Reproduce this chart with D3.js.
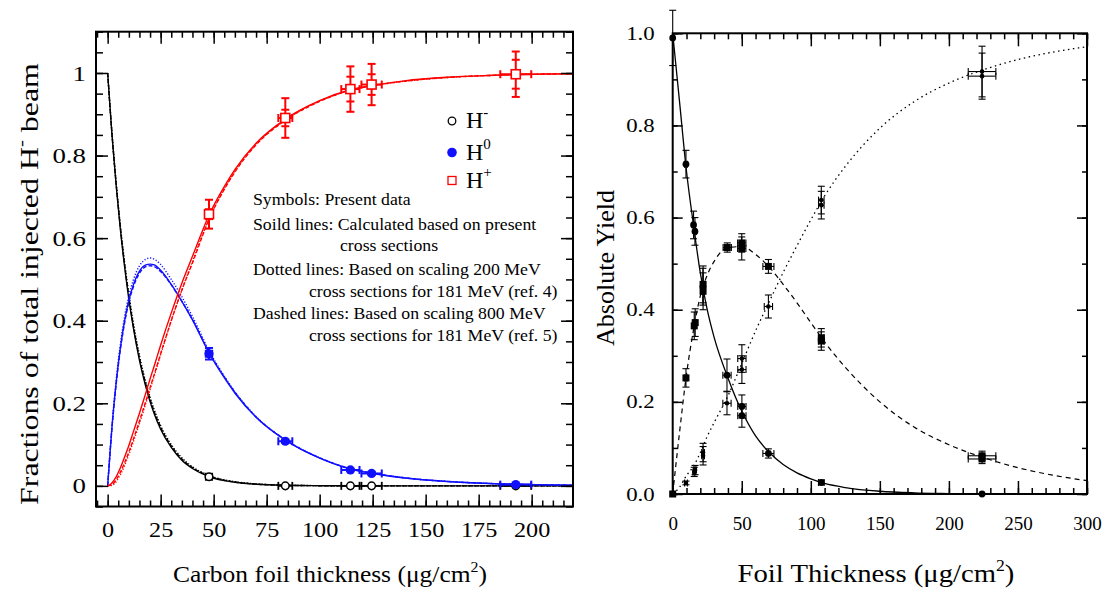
<!DOCTYPE html>
<html><head><meta charset="utf-8">
<script src="https://cdn.jsdelivr.net/npm/d3@7"></script>
<style>
html,body{margin:0;padding:0;background:#fff;}
svg text{font-family:"Liberation Serif","Times New Roman",serif;fill:#000;}
</style></head>
<body><svg id="c" width="1104" height="590"></svg>
<script>
// ---------------- LEFT PANEL DATA ----------------
const thick = [0,2,4,6,8,10,12,15,18,20,22,25,30,35,40,48,55,60,70,84,100,115,125,140,160,180,200,220];
const hmSolid  = [1,.853,.728,.621,.530,.452,.386,.304,.240,.204,.174,.137,.093,.062,.042,.022,.0127,.0086,.0039,.0013,.0004,.0001,0,0,0,0,0,0];
const hmDotted = [1,.856,.735,.630,.541,.464,.398,.316,.251,.215,.184,.146,.100,.068,.046,.025,.0145,.010,.0047,.0016,.0005,.0002,.0001,0,0,0,0,0];
const hmDashed = [1,.855,.732,.626,.536,.459,.392,.310,.246,.210,.179,.142,.097,.065,.044,.024,.0137,.0093,.0043,.0014,.0004,.0001,0,0,0,0,0,0];
const h0Solid  = [0,.14,.25,.335,.40,.45,.485,.52,.535,.537,.535,.522,.488,.447,.402,.32,.262,.225,.166,.11,.067,.04,.03,.019,.0105,.0057,.0031,.0017];
const h0Dotted = [0,.143,.255,.343,.41,.46,.497,.533,.549,.552,.549,.536,.50,.458,.41,.326,.266,.228,.168,.111,.068,.041,.031,.0195,.0108,.0058,.0032,.0017];
const h0Dashed = [0,.138,.245,.33,.395,.445,.48,.515,.531,.533,.531,.519,.487,.447,.403,.322,.264,.227,.167,.111,.068,.041,.031,.0195,.0107,.0058,.0031,.0017];
const hpSolid  = [0,.007,.022,.044,.07,.098,.129,.176,.225,.259,.291,.341,.419,.491,.556,.658,.725,.766,.83,.889,.933,.96,.97,.981,.9895,.994,.997,.998];
const hpDotted = [0,.001,.01,.027,.049,.076,.105,.151,.20,.233,.267,.318,.40,.474,.544,.649,.72,.762,.827,.887,.932,.959,.969,.98,.989,.994,.997,.998];
const hpDashed = [0,.003,.015,.033,.056,.082,.111,.157,.205,.238,.27,.32,.40,.474,.54,.648,.718,.76,.826,.886,.931,.959,.969,.98,.989,.994,.997,.998];

const ptThick    = [47.8, 83.8, 114.5, 124.5, 192.5];
const ptThickErr = [1.5, 3.3, 4.3, 4.8, 7.3];
const hmPts      = [0.022, 0.0, 0.0, 0.0, 0.0];
const h0Pts      = [0.32, 0.108, 0.0385, 0.03, 0.003];
const h0Err      = [0.014, 0.004, 0.003, 0.003, 0.002];
const hpPts      = [0.658, 0.891, 0.961, 0.972, 0.997];
const hpErr      = [0.035, 0.048, 0.055, 0.05, 0.055];
const hpErrInner = [0.012, 0.02, 0.03, 0.025, 0.035];

const leftXTicks = [0,25,50,75,100,125,150,175,200];
const leftYTicks = [0,0.2,0.4,0.6,0.8,1];
const leftYLabels = ["0","0.2","0.4","0.6","0.8","1"];

// ---------------- RIGHT PANEL DATA ----------------
const rThick  = [0,5,10,15,20,25,30,40,50,60,70,80,90,100,110,125,150,175,200,225,250,275,300];
const rSolid  = [1,.85,.70,.585,.48,.40,.34,.252,.18,.126,.09,.064,.046,.033,.023,.014,.006,.0025,.001,0,null,null,null];
const rDashed = [0,.135,.26,.355,.43,.475,.505,.535,.537,.52,.492,.455,.415,.372,.33,.275,.2,.145,.107,.079,.057,.041,.029];
const rDotted = [0,.015,.04,.06,.09,.125,.155,.213,.283,.354,.418,.481,.539,.595,.647,.711,.794,.852,.892,.921,.943,.959,.971];

const aX    = [0, 9.6, 15.1, 16.1, 21.9, 39.3, 50.1, 50.1, 69.3, 107.6, 224];
const aY    = [0.99, 0.716, 0.584, 0.57, 0.45, 0.258, 0.19, 0.17, 0.088, 0.025, 0.0];
const aYErr = [0.06, 0.03, 0.03, 0.03, 0.04, 0.035, 0.025, 0.025, 0.01, 0.005, 0.0];
const aXErr = [0, 1, 1, 1, 1, 3, 3, 3, 4, 2, 0];

const bX    = [0, 9.6, 15.6, 16.3, 22, 22, 39.5, 50, 50, 69.3, 107.6, 107.6, 224, 224];
const bY    = [0, 0.252, 0.365, 0.372, 0.455, 0.44, 0.535, 0.533, 0.545, 0.494, 0.339, 0.332, 0.083, 0.076];
const bYErr = [0, 0.02, 0.03, 0.03, 0.04, 0.04, 0.01, 0.025, 0.02, 0.015, 0.02, 0.02, 0.01, 0.01];
const bXErr = [0, 1, 1, 1, 1, 1, 3, 3, 3, 4, 2, 2, 10, 10];

const cX    = [9.6, 15.6, 16.2, 22, 22, 39.3, 50.1, 50.1, 69.3, 107.6, 107.6, 224, 224];
const cY    = [0.024, 0.048, 0.052, 0.09, 0.083, 0.197, 0.27, 0.294, 0.407, 0.627, 0.638, 0.917, 0.907];
const cYErr = [0.004, 0.01, 0.01, 0.02, 0.02, 0.025, 0.03, 0.03, 0.025, 0.03, 0.03, 0.055, 0.05];
const cXErr = [1, 1, 1, 1, 1, 3, 3, 3, 3, 2, 2, 10, 10];

const rightXTicks = [0,50,100,150,200,250,300];
const rightYTicks = [0,0.2,0.4,0.6,0.8,1.0];

// ---------------- DRAWING ----------------
const svg = d3.select("#c");
const FONT = '"Liberation Serif","Times New Roman",serif';
const BLUE = "#1010ff", RED = "#ff0000";

function range(a,b,s){const r=[];for(let v=a;v<=b+1e-9;v+=s)r.push(+v.toFixed(4));return r;}
function stretch(sel,k){
  sel.each(function(){
    const w = this.getComputedTextLength();
    this.setAttribute("textLength", (w*k).toFixed(2));
    this.setAttribute("lengthAdjust","spacingAndGlyphs");
  });
}

function frameAxes(g, x, y, o){
  const [x0,x1] = x.range(), [y0,y1] = [y.range()[1], y.range()[0]];
  const styleAxis = sel => { sel.select(".domain").remove(); sel.selectAll("line").attr("stroke","#000").attr("stroke-width",1.5); };
  g.append("g").attr("transform",`translate(0,${y1})`).call(d3.axisBottom(x).tickValues(o.xMinor).tickSize(-o.minorX).tickFormat("")).call(styleAxis);
  g.append("g").attr("transform",`translate(0,${y0})`).call(d3.axisTop(x).tickValues(o.xMinor).tickSize(-o.minorX).tickFormat("")).call(styleAxis);
  g.append("g").attr("transform",`translate(${x0},0)`).call(d3.axisLeft(y).tickValues(o.yMinor).tickSize(-o.minorY).tickFormat("")).call(styleAxis);
  g.append("g").attr("transform",`translate(${x1},0)`).call(d3.axisRight(y).tickValues(o.yMinor).tickSize(-o.minorY).tickFormat("")).call(styleAxis);
  const bx = g.append("g").attr("transform",`translate(0,${y1})`)
    .call(d3.axisBottom(x).tickValues(o.xMajor).tickSize(-o.majorX).tickPadding(o.xPad).tickFormat(o.xFmt)).call(styleAxis);
  bx.selectAll("text").attr("font-family",FONT).attr("font-size",o.fs).attr("fill","#000").call(stretch,o.xStretch);
  g.append("g").attr("transform",`translate(0,${y0})`).call(d3.axisTop(x).tickValues(o.xMajor).tickSize(-o.majorX).tickFormat("")).call(styleAxis);
  const ly = g.append("g").attr("transform",`translate(${x0},0)`)
    .call(d3.axisLeft(y).tickValues(o.yMajor).tickSize(-o.majorY).tickPadding(o.yPad).tickFormat(o.yFmt)).call(styleAxis);
  ly.selectAll("text").attr("font-family",FONT).attr("font-size",o.fs).attr("fill","#000").call(stretch,o.yStretch);
  g.append("g").attr("transform",`translate(${x1},0)`).call(d3.axisRight(y).tickValues(o.yMajor).tickSize(-o.majorY).tickFormat("")).call(styleAxis);
  g.append("rect").attr("x",x0).attr("y",y0).attr("width",x1-x0).attr("height",y1-y0)
    .attr("fill","none").attr("stroke","#000").attr("stroke-width",2);
}

function errBars(g, xs, ys, xe, ye, ye2, x, y, color, sw, cap){
  xs.forEach((xv,i)=>{
    const cx = x(xv), cy = y(ys[i]);
    if (ye && ye[i] > 0){
      const t = y(ys[i]+ye[i]), b = y(ys[i]-ye[i]);
      g.append("line").attr("x1",cx).attr("x2",cx).attr("y1",t).attr("y2",b).attr("stroke",color).attr("stroke-width",sw);
      [t,b].forEach(v=>g.append("line").attr("x1",cx-cap).attr("x2",cx+cap).attr("y1",v).attr("y2",v).attr("stroke",color).attr("stroke-width",sw));
      if (ye2 && ye2[i] > 0){
        [y(ys[i]+ye2[i]), y(ys[i]-ye2[i])].forEach(v=>g.append("line").attr("x1",cx-cap).attr("x2",cx+cap).attr("y1",v).attr("y2",v).attr("stroke",color).attr("stroke-width",sw));
      }
    }
    if (xe && xe[i] > 0){
      const l = x(xv-xe[i]), r = x(xv+xe[i]);
      g.append("line").attr("x1",l).attr("x2",r).attr("y1",cy).attr("y2",cy).attr("stroke",color).attr("stroke-width",sw);
      [l,r].forEach(v=>g.append("line").attr("x1",v).attr("x2",v).attr("y1",cy-cap).attr("y2",cy+cap).attr("stroke",color).attr("stroke-width",sw));
    }
  });
}

// composite label (with superscript) stretched to a target width
function supLabel(g, parts, fs, supFs, transform, targetW){
  const grp = g.append("g").attr("transform",transform);
  const inner = grp.append("g");
  const t = inner.append("text").attr("x",0).attr("y",0).attr("text-anchor","middle").attr("font-size",fs);
  let prevSup = false;
  parts.forEach(([s,sup])=>{
    const ts = t.append("tspan").text(s);
    if (sup){ ts.attr("font-size",supFs).attr("dy",-fs*0.42); }
    else if (prevSup){ ts.attr("dy",fs*0.42); }
    prevSup = !!sup;
  });
  const w = t.node().getBBox().width;
  inner.attr("transform",`scale(${targetW/w},1)`);
}

// ===== LEFT =====
const xL = d3.scaleLinear().domain([-5.5, 219.5]).range([96, 573]);
const yL = d3.scaleLinear().domain([-0.05, 1.1]).range([506.5, 31.7]);
const gL = svg.append("g");
svg.append("clipPath").attr("id","clipL").append("rect").attr("x",96).attr("y",31.7).attr("width",477).attr("height",474.8);
const curves = gL.append("g").attr("clip-path","url(#clipL)");
const lineL = d3.line().x((d,i)=>xL(thick[i])).y(d=>yL(d)).curve(d3.curveMonotoneX);
const leftSeries = [
  [hmDotted,"#000","1.2,1.8"],[hmDashed,"#000","4,2"],[hmSolid,"#000",null],
  [h0Dotted,BLUE,"1.2,1.8"],[h0Dashed,BLUE,"4,2"],[h0Solid,BLUE,null],
  [hpDotted,RED,"1.2,1.8"],[hpDashed,RED,"4,2"],[hpSolid,RED,null]
];
leftSeries.forEach(([arr,col,dash])=>{
  curves.append("path").attr("d",lineL(arr)).attr("fill","none").attr("stroke",col)
    .attr("stroke-width",1.4).attr("stroke-dasharray",dash);
});

frameAxes(gL, xL, yL, {
  xMajor:leftXTicks, xMinor:range(-5,215,5), yMajor:leftYTicks, yMinor:range(-0.05,1.1,0.05),
  majorX:12, minorX:6, majorY:12, minorY:7, xPad:15, yPad:10, fs:22, xStretch:1.1, yStretch:1.22,
  xFmt:d=>d, yFmt:(d,i)=>leftYLabels[i]
});

// left data points
const pts = gL.append("g");
errBars(pts, ptThick, hmPts, ptThickErr, null, null, xL, yL, "#000", 1.8, 4);
ptThick.forEach((xv,i)=>pts.append("circle").attr("cx",xL(xv)).attr("cy",yL(hmPts[i])).attr("r",3.8).attr("fill","#fff").attr("stroke","#000").attr("stroke-width",1.5));
errBars(pts, ptThick, h0Pts, ptThickErr, h0Err, null, xL, yL, BLUE, 2, 4);
ptThick.forEach((xv,i)=>pts.append("circle").attr("cx",xL(xv)).attr("cy",yL(h0Pts[i])).attr("r",4.6).attr("fill",BLUE));
errBars(pts, ptThick, hpPts, ptThickErr, hpErr, hpErrInner, xL, yL, RED, 2, 4);
ptThick.forEach((xv,i)=>pts.append("rect").attr("x",xL(xv)-4.5).attr("y",yL(hpPts[i])-4.5).attr("width",9).attr("height",9).attr("fill","#fff").attr("stroke",RED).attr("stroke-width",1.6));

// legend
const leg = gL.append("g");
leg.append("circle").attr("cx",452).attr("cy",121).attr("r",3.8).attr("fill","none").attr("stroke","#000").attr("stroke-width",1.3);
leg.append("circle").attr("cx",452).attr("cy",152.5).attr("r",4.8).attr("fill",BLUE);
leg.append("rect").attr("x",448).attr("y",176.5).attr("width",8).attr("height",8).attr("fill","none").attr("stroke",RED).attr("stroke-width",1.3);
[["-",128],["0",160],["+",188]].forEach(([s,yb])=>{
  const t = leg.append("text").attr("x",466).attr("y",yb).attr("font-size",24);
  t.append("tspan").text("H");
  t.append("tspan").attr("font-size",15).attr("dy",-11).text(s);
});
const notes = [
  ["Symbols: Present data",253,205],
  ["Soild lines: Calculated based on present",253,230],
  ["cross sections",340,251],
  ["Dotted lines: Based on scaling 200 MeV",253,275],
  ["cross sections for 181 MeV (ref. 4)",309,297],
  ["Dashed lines: Based on scaling 800 MeV",253,319],
  ["cross sections for 181 MeV (ref. 5)",309,341]
];
notes.forEach(([s,x,y])=>gL.append("text").attr("x",x).attr("y",y).attr("font-size",16.5).text(s).call(stretch,1.075));

// left axis titles
supLabel(gL, [["Carbon foil thickness (μg/cm"],["2",true],[")"]], 24, 15, "translate(330,582)", 314);
supLabel(gL, [["Fractions of total injected H"],["-",true],[" beam"]], 26, 17, "translate(38,284) rotate(-90)", 442);

// ===== RIGHT =====
const xR = d3.scaleLinear().domain([0,300]).range([672.7,1087]);
const yR = d3.scaleLinear().domain([0,1]).range([494,33.3]);
const gR = svg.append("g");
const lineR = d3.line().defined(d=>d!==null).x((d,i)=>xR(rThick[i])).y(d=>yR(d)).curve(d3.curveMonotoneX);
gR.append("path").attr("d",lineR(rSolid)).attr("fill","none").attr("stroke","#000").attr("stroke-width",1.3);
gR.append("path").attr("d",lineR(rDashed)).attr("fill","none").attr("stroke","#000").attr("stroke-width",1.2).attr("stroke-dasharray","5,4");
gR.append("path").attr("d",lineR(rDotted)).attr("fill","none").attr("stroke","#000").attr("stroke-width",1.3).attr("stroke-dasharray","1.5,3.5");

frameAxes(gR, xR, yR, {
  xMajor:rightXTicks, xMinor:range(0,300,10), yMajor:rightYTicks, yMinor:range(0,1,0.1),
  majorX:13, minorX:6, majorY:10, minorY:5, xPad:23, yPad:18, fs:19, xStretch:1.0, yStretch:1.2,
  xFmt:d=>d, yFmt:d=>d.toFixed(1)
});

const ptsR = gR.append("g");
errBars(ptsR, aX, aY, aXErr, aYErr, null, xR, yR, "#000", 1.1, 3.5);
errBars(ptsR, bX, bY, bXErr, bYErr, null, xR, yR, "#000", 1.1, 3.5);
errBars(ptsR, cX, cY, cXErr, cYErr, null, xR, yR, "#000", 1.1, 3.5);
aX.forEach((xv,i)=>ptsR.append("circle").attr("cx",xR(xv)).attr("cy",yR(aY[i])).attr("r",3.4).attr("fill","#000"));
bX.forEach((xv,i)=>ptsR.append("rect").attr("x",xR(xv)-3.5).attr("y",yR(bY[i])-3.5).attr("width",7).attr("height",7).attr("fill","#000"));
cX.forEach((xv,i)=>ptsR.append("circle").attr("cx",xR(xv)).attr("cy",yR(cY[i])).attr("r",2.3).attr("fill","#000"));

supLabel(gR, [["Foil Thickness (μg/cm"],["2",true],[")"]], 26, 16, "translate(876,582)", 277);
supLabel(gR, [["Absolute Yield"]], 26, 16, "translate(614,268) rotate(-90)", 156);
</script></body></html>
